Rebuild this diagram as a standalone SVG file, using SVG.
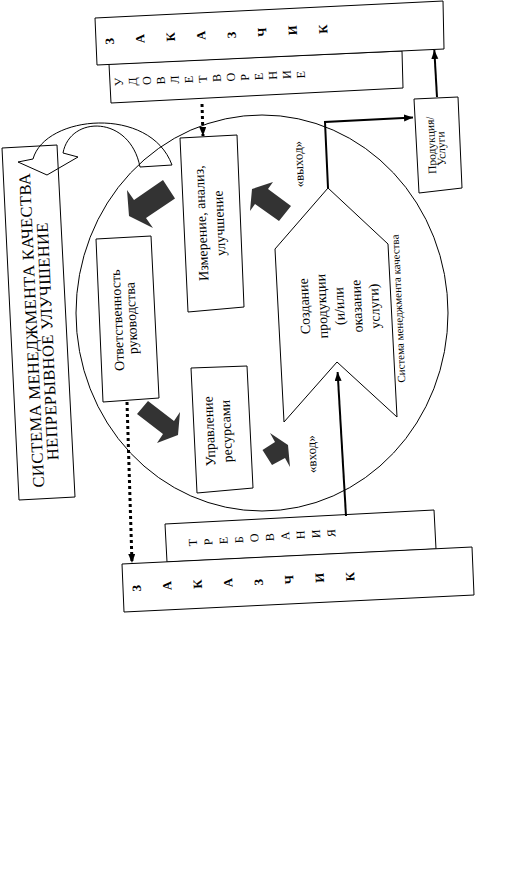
<svg xmlns="http://www.w3.org/2000/svg" width="515" height="889" viewBox="0 0 515 889">
<style>
.box{fill:#fff;stroke:#000;stroke-width:1}
.ol{fill:none;stroke:#000;stroke-width:1}
.t{font-family:"Liberation Serif","Times New Roman",serif;fill:#000}
.m{text-anchor:middle}
.blk{fill:#333;stroke:none}
.thick{fill:none;stroke:#000;stroke-width:2}
.dot{fill:none;stroke:#000;stroke-width:3;stroke-dasharray:3 3}
</style>
<defs>
<marker id="ah" markerUnits="userSpaceOnUse" markerWidth="10" markerHeight="8" refX="9" refY="3.5" orient="auto"><path d="M0,0L9,3.5L0,7z" fill="#000"/></marker>
</defs>
<rect width="515" height="889" fill="#fff"/>

<g id="cycle">
<ellipse class="ol" cx="262" cy="313" rx="186" ry="198"/>
</g>

<g id="improvement-arrow">
<path class="ol" d="M33,159 C45,115 150,105 172,165 L140,167 C130,115 70,115 63,153 L78,157 L47,175 L18,162 Z"/>
</g>

<g id="qms-box">
<polygon class="ol" points="2,148 57,145 75,497 19,500"/>
<text class="t m" font-size="16.5" letter-spacing="0.4" transform="translate(37,330) rotate(-92.6)">СИСТЕМА МЕНЕДЖМЕНТА КАЧЕСТВА</text>
<text class="t m" font-size="16.5" letter-spacing="0.4" transform="translate(53,341) rotate(-92.6)">НЕПРЕРЫВНОЕ УЛУЧШЕНИЕ</text>
</g>

<g id="satisfaction">
<polygon class="box" points="109,64 402,51 403,88 111,103"/>
<text class="t" font-size="12" x="123 137 151 165 179 193 207 221 235 249 263 277 291 305" y="86 85.4 84.8 84.2 83.6 83 82.4 81.8 81.2 80.6 80 79.4 78.8 78.2" rotate="-92.6">УДОВЛЕТВОРЕНИЕ</text>
</g>

<g id="customer-top">
<polygon class="box" points="95,18 443,1 444,49 97,65"/>
<text class="t" font-size="12.5" font-weight="bold" x="114 144.5 175 205.5 236 266.5 297 327.5" y="44.5 42.9 41.3 39.8 38.2 36.6 35 33.4" rotate="-92.6">ЗАКАЗЧИК</text>
</g>

<g id="measurement">
<polygon class="box" points="180,138 237,135 244,307 188,312"/>
<text class="t m" font-size="14" transform="translate(206,223) rotate(-92.6)">Измерение, анализ,</text>
<text class="t m" font-size="14" transform="translate(224,223) rotate(-92.6)">улучшение</text>
</g>

<g id="management">
<polygon class="box" points="96,239 151,236 159,398 103,402"/>
<text class="t m" font-size="14" transform="translate(122,320) rotate(-92.6)">Ответственность</text>
<text class="t m" font-size="14" transform="translate(136,318) rotate(-92.6)">руководства</text>
</g>

<g id="resources">
<polygon class="box" points="191,368 247,366 253,488 197,493"/>
<text class="t m" font-size="14" transform="translate(214,431) rotate(-92.6)">Управление</text>
<text class="t m" font-size="14" transform="translate(231,431) rotate(-92.6)">ресурсами</text>
</g>

<g id="production">
<polygon class="box" points="275,249 328,188 388,244 397,417 337,362 284,422"/>
<text class="t m" font-size="14" transform="translate(309,306) rotate(-92.6)">Создание</text>
<text class="t m" font-size="14" transform="translate(326.5,306) rotate(-92.6)">продукции</text>
<text class="t m" font-size="14" transform="translate(344,306) rotate(-92.6)">(и/или</text>
<text class="t m" font-size="14" transform="translate(361.5,306) rotate(-92.6)">оказание</text>
<text class="t m" font-size="14" transform="translate(379,306) rotate(-92.6)">услуги)</text>
</g>

<g id="qms-label">
<text class="t m" font-size="11" transform="translate(402,308.5) rotate(-92.6)">Система менеджмента качества</text>
</g>

<g id="output-label">
<text class="t m" font-size="13" transform="translate(303,164) rotate(-92.6)">«выход»</text>
</g>

<g id="input-label">
<text class="t m" font-size="13" transform="translate(316,454) rotate(-92.6)">«вход»</text>
</g>

<g id="product">
<polygon class="box" points="414,99 458,97 462,188 419,193"/>
<text class="t m" font-size="11.5" transform="translate(435,145) rotate(-92.6)">Продукция/</text>
<text class="t m" font-size="11.5" transform="translate(445,148.5) rotate(-92.6)">Услуги</text>
</g>

<g id="requirements">
<polygon class="box" points="165,524 434,510 436,549 167,562"/>
<text class="t" font-size="12" x="197 212.4 227.8 243.2 258.6 274 289.4 304.8 320.2 335.6" y="546 545 544 543 542 541 540 539 538 537" rotate="-92.6">ТРЕБОВАНИЯ</text>
</g>

<g id="customer-bottom">
<polygon class="box" points="122,564 472,547 474,595 124,612"/>
<text class="t" font-size="12.5" font-weight="bold" x="141 171.5 202 232.5 263 293.5 324 354.5" y="591.5 590 588.5 587 585.5 584 582.5 581" rotate="-92.6">ЗАКАЗЧИК</text>
</g>

<g id="connectors">
<polygon class="blk" points="129,216 153,228 146,218 175,198.5 163,180 134,200 127,190"/>
<polygon class="blk" points="252,189 273,182 268,189 291,206 279,221 255,204 250,211"/>
<polygon class="blk" points="178,435 180,412 174,421 148,401 137,414 163,434 157,443"/>
<polygon class="blk" points="288,445 290,467 285,458 272,465 262.5,450 275,442 270,433"/>
<line class="dot" x1="202" y1="104" x2="203" y2="136" marker-end="url(#ah)"/>
<line class="dot" x1="127" y1="402" x2="132" y2="563" marker-end="url(#ah)"/>
<path class="thick" d="M346,516 L337.6,372" marker-end="url(#ah)"/>
<path class="thick" d="M328,188 L325,122 L413,117.5" marker-end="url(#ah)"/>
<path class="thick" d="M437,97 L434.3,50" marker-end="url(#ah)"/>
</g>
</svg>
